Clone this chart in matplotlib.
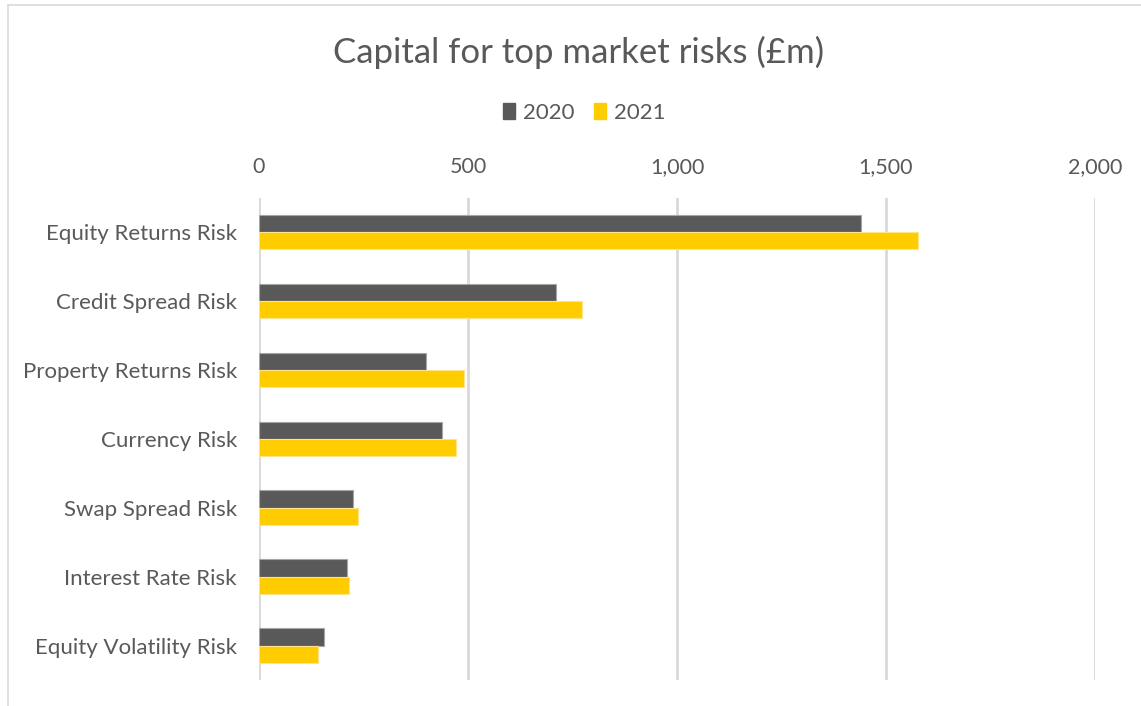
import matplotlib.pyplot as plt
import matplotlib.patches as mpatches
import numpy as np

plt.rcParams["font.family"] = ["Lato", "DejaVu Sans"]

# data (GBP m)
categories = [
    "Equity Returns Risk",
    "Credit Spread Risk",
    "Property Returns Risk",
    "Currency Risk",
    "Swap Spread Risk",
    "Interest Rate Risk",
    "Equity Volatility Risk",
]
capital_2020 = [1440, 711, 400, 438, 226, 211, 155]
capital_2021 = [1577, 773, 490, 472, 238, 216, 142]
series_labels = ["2020", "2021"]
x_ticks = [0, 500, 1000, 1500, 2000]

grey_text = "#595959"
col_2020 = "#595959"
col_2021 = "#FFCC00"

fig = plt.figure(figsize=(11.41, 7.06), dpi=100)
ax = fig.add_axes([259 / 1141, 1 - 680 / 706, (1095 - 259) / 1141, (680 - 197.5) / 706])

y = np.arange(len(categories))
h = 0.25
ax.barh(y - h / 2, capital_2020, height=h, color=col_2020, edgecolor="#A6A6A6",
        linewidth=0.8, label=series_labels[0], zorder=3)
ax.barh(y + h / 2, capital_2021, height=h, color=col_2021, edgecolor="#FFE38A",
        linewidth=0.8, label=series_labels[1], zorder=3)

ax.set_ylim(len(categories) - 0.5, -0.5)
ax.set_yticks(y)
ax.set_yticklabels(categories, fontsize=16, color=grey_text)
ax.set_xlim(0, 2000)
ax.set_xticks(x_ticks)
ax.set_xticklabels([f"{t:,}" for t in x_ticks], fontsize=15.5, color=grey_text)
ax.xaxis.tick_top()
ax.tick_params(axis="both", length=0)
ax.tick_params(axis="x", pad=15)
ax.tick_params(axis="y", pad=16)

ax.grid(axis="x", color="#D9D9D9", linewidth=2, zorder=0)
for s in ax.spines.values():
    s.set_visible(False)

fig.text(0.507, 1 - 52 / 706, "Capital for top market risks (£m)", ha="center",
         va="center", fontsize=25, color=grey_text)

handles = [mpatches.Patch(color=col_2020), mpatches.Patch(color=col_2021)]
fig.legend(handles, series_labels, loc="center", bbox_to_anchor=(0.512, 1 - 113 / 706),
           ncol=2, frameon=False, fontsize=16, labelcolor=grey_text,
           handlelength=0.55, handleheight=0.75, handletextpad=0.35, columnspacing=0.9)

# light outer chart border (left and top edges visible in the crop)
fig.patches.append(mpatches.Rectangle((8 / 1141, -0.1), 1.1, 1.1 - 5 / 706,
                                      transform=fig.transFigure, fill=False,
                                      edgecolor="#D9D9D9", linewidth=1.2))

fig.savefig("out.png", dpi=100)
